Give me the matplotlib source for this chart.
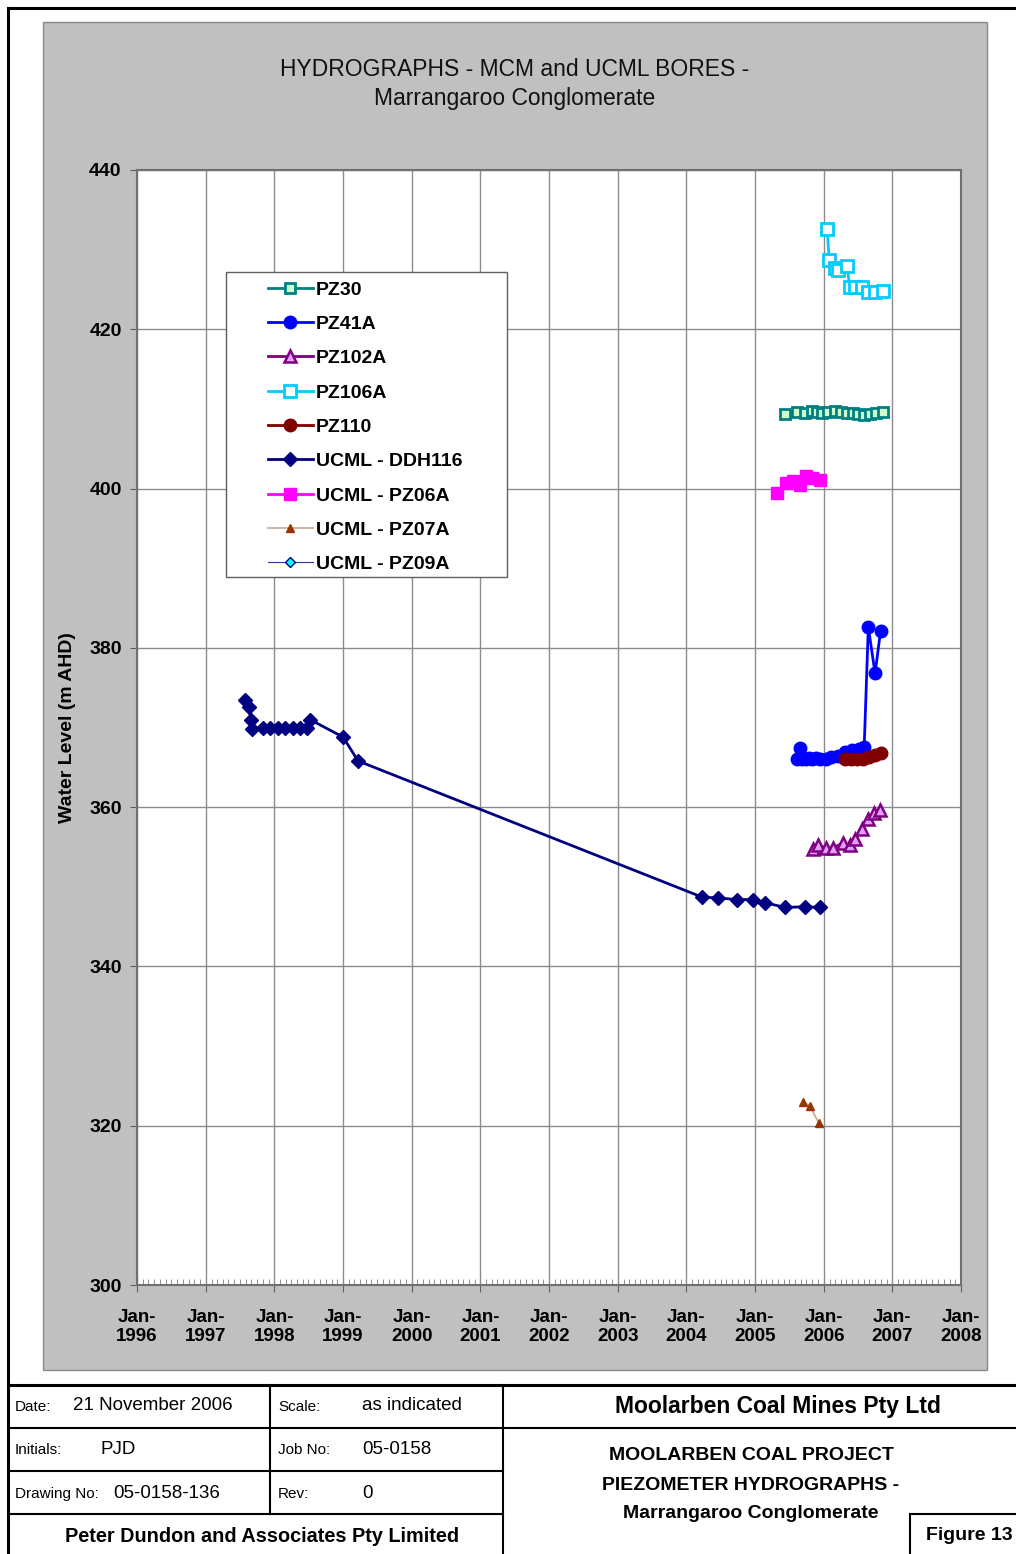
import pandas as pd
import matplotlib
matplotlib.use('Agg')
import matplotlib.pyplot as plt
import matplotlib.dates as mdates
from matplotlib.patches import Rectangle

plt.rcParams['font.family'] = ['Liberation Sans', 'DejaVu Sans']

# water levels (m AHD) for each bore
pz30_dates = ['2005-06-10', '2005-08-11', '2005-09-24', '2005-10-30', '2005-11-24', '2005-12-24',
              '2006-01-23', '2006-02-28', '2006-04-01', '2006-05-05', '2006-06-07', '2006-07-02',
              '2006-08-04', '2006-09-02', '2006-10-05', '2006-11-10']
pz30_levels = [409.4, 409.6, 409.5, 409.7, 409.6, 409.5, 409.6, 409.7, 409.6, 409.5, 409.5, 409.4,
               409.3, 409.4, 409.5, 409.6]

pz41a_dates = ['2005-08-11', '2005-08-25', '2005-09-09', '2005-09-27', '2005-10-15', '2005-10-30',
               '2005-11-21', '2005-12-14', '2006-01-11', '2006-02-10', '2006-03-18', '2006-04-23',
               '2006-05-30', '2006-07-06', '2006-08-04', '2006-08-26', '2006-10-01', '2006-10-30']
pz41a_levels = [366.0, 367.4, 366.1, 366.0, 366.2, 366.1, 366.2, 366.1, 366.0, 366.3, 366.4, 366.9,
                367.2, 367.3, 367.5, 382.6, 376.8, 382.1]

pz102a_dates = ['2005-11-03', '2005-12-02', '2006-01-11', '2006-02-21', '2006-04-13', '2006-05-19',
                '2006-06-18', '2006-07-24', '2006-08-26', '2006-09-27', '2006-10-27']
pz102a_levels = [354.7, 355.2, 354.9, 354.9, 355.5, 355.2, 356.0, 357.3, 358.5, 359.3, 359.6]

pz106a_dates = ['2006-01-19', '2006-01-30', '2006-02-28', '2006-03-18', '2006-05-05', '2006-05-19',
                '2006-06-18', '2006-07-24', '2006-08-22', '2006-10-01', '2006-11-10']
pz106a_levels = [432.6, 428.7, 427.7, 427.4, 427.9, 425.3, 425.3, 425.3, 424.7, 424.7, 424.8]

pz110_dates = ['2006-04-23', '2006-05-26', '2006-06-29', '2006-07-27', '2006-08-29', '2006-10-01',
               '2006-10-30']
pz110_levels = [366.0, 366.0, 366.0, 366.1, 366.3, 366.5, 366.8]

ddh116_dates = ['1997-07-28', '1997-08-18', '1997-08-29', '1997-09-02', '1997-10-30', '1997-12-09',
                '1998-01-19', '1998-02-28', '1998-04-09', '1998-05-16', '1998-06-25', '1998-07-09',
                '1999-01-01', '1999-03-22', '2004-03-25', '2004-06-17', '2004-09-27', '2004-12-20',
                '2005-02-24', '2005-06-10', '2005-09-24', '2005-12-14']
ddh116_levels = [373.4, 372.6, 371.0, 369.8, 370.0, 370.0, 370.0, 370.0, 370.0, 370.0, 370.0, 371.0,
                 368.8, 365.8, 348.7, 348.6, 348.4, 348.4, 348.0, 347.4, 347.5, 347.4]

pz06a_dates = ['2005-04-27', '2005-06-14', '2005-07-20', '2005-08-25', '2005-09-27', '2005-10-30',
               '2005-12-14']
pz06a_levels = [399.4, 400.7, 401.0, 400.4, 401.6, 401.3, 401.1]

pz07a_dates = ['2005-09-12', '2005-10-19', '2005-12-06']
pz07a_levels = [323.0, 322.5, 320.3]

pz09a_dates = []
pz09a_levels = []

W, H = 1016, 1554
fig = plt.figure(figsize=(W / 100, H / 100), dpi=100)

# sheet border, grey chart panel and title block (pixel coordinates)
bg = fig.add_axes([0, 0, 1, 1], zorder=0)
bg.set_xlim(0, W)
bg.set_ylim(H, 0)
bg.axis('off')
bg.add_patch(Rectangle((43, 22), 944, 1348, facecolor='#c0c0c0', edgecolor='#8a8a8a', lw=1))
bg.plot([8, 8], [8, H], color='black', lw=2.2)
bg.plot([8, W], [8, 8], color='black', lw=2.2)
bg.plot([8, W], [1385, 1385], color='black', lw=2.2)
bg.plot([8, W], [1428, 1428], color='black', lw=1.5)
bg.plot([8, 503], [1471, 1471], color='black', lw=1.5)
bg.plot([8, 503], [1514, 1514], color='black', lw=1.5)
bg.plot([270, 270], [1385, 1514], color='black', lw=1.5)
bg.plot([503, 503], [1385, H], color='black', lw=1.5)
bg.plot([910, 910], [1514, H], color='black', lw=1.5)
bg.plot([910, W], [1514, 1514], color='black', lw=1.5)

bg.text(515, 70, 'HYDROGRAPHS - MCM and UCML BORES -', ha='center', va='center', fontsize=16.5,
        color='#111111')
bg.text(515, 99, 'Marrangaroo Conglomerate', ha='center', va='center', fontsize=16.5, color='#111111')
bg.text(68, 728, 'Water Level (m AHD)', rotation=90, ha='center', va='center',
        fontsize=14, fontweight='bold')

small = 11
val = 13.5
bg.text(15, 1407, 'Date:', va='center', fontsize=small)
bg.text(73, 1406, '21 November 2006', va='center', fontsize=val)
bg.text(278, 1407, 'Scale:', va='center', fontsize=small)
bg.text(362, 1406, 'as indicated', va='center', fontsize=val)
bg.text(15, 1450, 'Initials:', va='center', fontsize=small)
bg.text(100, 1449, 'PJD', va='center', fontsize=val)
bg.text(278, 1450, 'Job No:', va='center', fontsize=small)
bg.text(362, 1449, '05-0158', va='center', fontsize=val)
bg.text(15, 1494, 'Drawing No:', va='center', fontsize=small)
bg.text(113, 1493, '05-0158-136', va='center', fontsize=val)
bg.text(278, 1494, 'Rev:', va='center', fontsize=small)
bg.text(362, 1493, '0', va='center', fontsize=val)
bg.text(262, 1537, 'Peter Dundon and Associates Pty Limited', ha='center', va='center',
        fontsize=14.3, fontweight='bold')
bg.text(778, 1406, 'Moolarben Coal Mines Pty Ltd', ha='center', va='center',
        fontsize=16.5, fontweight='bold')
bg.text(751, 1456, 'MOOLARBEN COAL PROJECT', ha='center', va='center', fontsize=14, fontweight='bold')
bg.text(751, 1485, 'PIEZOMETER HYDROGRAPHS -', ha='center', va='center', fontsize=14, fontweight='bold')
bg.text(751, 1514, 'Marrangaroo Conglomerate', ha='center', va='center', fontsize=14, fontweight='bold')
bg.text(969, 1535, 'Figure 13', ha='center', va='center', fontsize=14, fontweight='bold')

# hydrograph axes
ax = fig.add_axes([137 / W, 1 - 1285 / H, 824 / W, 1115 / H], zorder=1)
ax.set_facecolor('white')

series = [
    ('PZ30', pz30_dates, pz30_levels,
     dict(color='#008080', marker='s', ms=7, mfc='#ccffcc', mew=2, lw=2)),
    ('PZ41A', pz41a_dates, pz41a_levels,
     dict(color='#0000ff', marker='o', ms=9, lw=2)),
    ('PZ102A', pz102a_dates, pz102a_levels,
     dict(color='#800080', marker='^', ms=8, mfc='#e0a0ff', mew=1.8, lw=2)),
    ('PZ106A', pz106a_dates, pz106a_levels,
     dict(color='#00ccff', marker='s', ms=9, mfc='white', mew=2, lw=2)),
    ('PZ110', pz110_dates, pz110_levels,
     dict(color='#800000', marker='o', ms=9, lw=2)),
    ('UCML - DDH116', ddh116_dates, ddh116_levels,
     dict(color='#000080', marker='D', ms=7, lw=2)),
    ('UCML - PZ06A', pz06a_dates, pz06a_levels,
     dict(color='#ff00ff', marker='s', ms=8, lw=2)),
    ('UCML - PZ07A', pz07a_dates, pz07a_levels,
     dict(color='#c8a890', marker='^', ms=6, mfc='#993300', mec='#993300', lw=1.2)),
    ('UCML - PZ09A', pz09a_dates, pz09a_levels,
     dict(color='#333399', marker='D', ms=5, mfc='#00ffff', mec='#000080', lw=0.8)),
]
for name, dates, levels, style in series:
    ax.plot(pd.to_datetime(dates), levels, label=name, **style)

ax.set_xlim(pd.Timestamp('1996-01-01'), pd.Timestamp('2008-01-01'))
ax.set_ylim(300, 440)
ax.set_yticks(range(300, 441, 20))
ax.xaxis.set_major_locator(mdates.YearLocator())
ax.xaxis.set_major_formatter(mdates.DateFormatter('Jan-\n%Y'))
ax.xaxis.set_minor_locator(mdates.MonthLocator())
ax.tick_params(axis='x', which='major', direction='out', length=5, pad=12, labelsize=13.5,
               color='#606060')
ax.tick_params(axis='x', which='minor', direction='in', length=4, color='#808080')
ax.tick_params(axis='y', which='major', direction='out', length=5, pad=6, labelsize=14,
               color='#606060')
for lbl in ax.get_xticklabels() + ax.get_yticklabels():
    lbl.set_fontweight('bold')
ax.grid(True, which='major', color='#8c8c8c', lw=1)
for sp in ax.spines.values():
    sp.set_color('#707070')
    sp.set_linewidth(1.5)

# legend box sits inside the plot with extra room on the left
ax.add_patch(Rectangle(((226 - 137) / 824, (1285 - 577) / 1115), (507 - 226) / 824, (577 - 272) / 1115,
                       transform=ax.transAxes, facecolor='white', edgecolor='#606060', lw=1, zorder=4))
leg = ax.legend(loc='upper left', bbox_to_anchor=((268 - 137) / 824, (1285 - 281) / 1115),
                frameon=False, borderpad=0, borderaxespad=0, handlelength=2.3, handletextpad=0.15,
                labelspacing=0.86, prop={'size': 14, 'weight': 'bold'})
leg.set_zorder(5)

fig.savefig('out.png', dpi=100)
